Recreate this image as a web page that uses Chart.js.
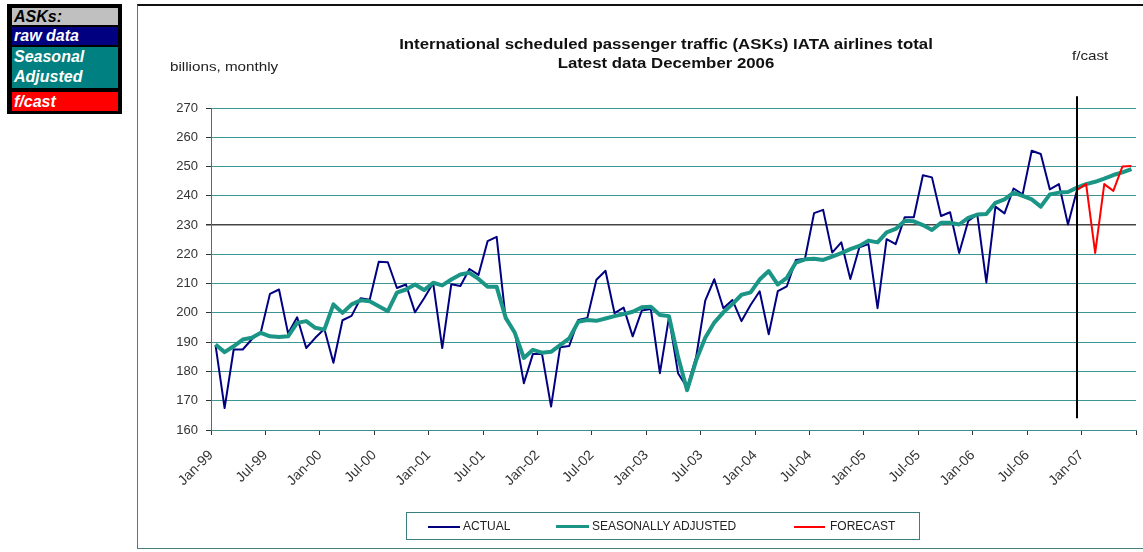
<!DOCTYPE html>
<html>
<head>
<meta charset="utf-8">
<script src="https://cdn.jsdelivr.net/npm/chart.js@4.4.0/dist/chart.umd.min.js"></script>
<style>
  body { margin: 0; background: #fff; font-family: "Liberation Sans", Arial, sans-serif; }
  #wrap { position: relative; width: 1143px; height: 552px; overflow: hidden; }
  #frame { position: absolute; left: 137px; top: 4px; width: 1010px; height: 545px;
           border: 1px solid #4a7f7f; border-top: 2px solid #111; box-sizing: border-box; }
  #chartBox { position: absolute; left: 0; top: 0; width: 1143px; height: 552px; }
  .txt { position: absolute; white-space: nowrap; color: #111; transform-origin: left top; }
  #title { width: 500px; top: 35px; text-align: center; font-weight: bold; font-size: 14px;
           line-height: 19px; transform: scaleX(1.2); transform-origin: 250px 0; left: 416px; }
  #unit { left: 170px; top: 59px; font-size: 13px; color: #222; transform: scaleX(1.17); }
  #fcast { left: 1072px; top: 48px; font-size: 13px; color: #222; transform: scaleX(1.17); }
  #key { position: absolute; left: 7px; top: 4px; width: 115px; height: 110px; background: #000; }
  #key div { position: absolute; left: 5px; width: 106px; color: #fff; font-weight: bold; font-style: italic;
             font-size: 16px; padding-left: 2px; box-sizing: border-box; }
  #legend { position: absolute; left: 406px; top: 512px; width: 514px; height: 28px;
            border: 1px solid #3a7f7f; box-sizing: border-box; font-size: 12px; color: #222; }
  #legend .sw { position: absolute; top: 13px; }
  #legend .lb { position: absolute; top: 6px; }
</style>
</head>
<body>
<div id="wrap">
  <div id="frame"></div>
  <div id="chartBox"><canvas id="c"></canvas></div>
  <div id="title" class="txt">International scheduled passenger traffic (ASKs) IATA airlines total<br>Latest data December 2006</div>
  <div id="unit" class="txt">billions, monthly</div>
  <div id="fcast" class="txt">f/cast</div>
  <div id="key">
    <div style="top:4px;height:17px;line-height:17px;background:#c0c0c0;color:#000">ASKs:</div>
    <div style="top:23px;height:18px;line-height:18px;background:#000080">raw data</div>
    <div style="top:43px;height:41px;line-height:20px;background:#008080">Seasonal<br>Adjusted</div>
    <div style="top:88px;height:19px;line-height:19px;background:#ff0000">f/cast</div>
  </div>
  <div id="legend">
    <div class="sw" style="left:21px;width:32px;height:2px;background:#000080"></div>
    <div class="lb" style="left:56px">ACTUAL</div>
    <div class="sw" style="left:149px;width:33px;height:3px;top:12px;background:#1b9585"></div>
    <div class="lb" style="left:185px">SEASONALLY ADJUSTED</div>
    <div class="sw" style="left:387px;width:31px;height:2px;background:#ff0000"></div>
    <div class="lb" style="left:423px">FORECAST</div>
  </div>
</div>
<script>
// monthly, starting Jan-99
const tickLabels = ["Jan-99", "Jul-99", "Jan-00", "Jul-00", "Jan-01", "Jul-01", "Jan-02", "Jul-02", "Jan-03",
  "Jul-03", "Jan-04", "Jul-04", "Jan-05", "Jul-05", "Jan-06", "Jul-06", "Jan-07", ""];

// Jan-99 .. Dec-06
const actual = [
  189, 167.5, 187.5, 187.5, 191, 193.5, 206.5, 208, 193, 198.5, 188, 191.5,
  194.5, 183, 197.5, 199, 205, 204.5, 217.5, 217.3, 208.5, 209.7, 200.2, 205,
  210.2, 188, 209.8, 209.2, 215, 213, 224.5, 226, 197.8, 193.5, 176, 186,
  186, 168, 188.3, 188.7, 197.6, 198.3, 211.3, 214.4, 199.9, 201.8, 192, 200.8,
  201.3, 179.4, 198.5, 179.4, 174.5, 185, 204.2, 211.5, 201.6, 204.4, 197.2, 202.7,
  207.4, 192.7, 207.4, 209.1, 218.1, 218.5, 234.1, 235.2, 220.6, 224.1, 211.6, 222.4,
  223.5, 201.6, 225.2, 223.5, 232.7, 232.7, 247, 246.3, 233.1, 234.4, 220.5, 231.4,
  233.6, 210.4, 236.3, 234, 242.5, 240.5, 255.4, 254.3, 242.2, 244, 230.2, 242
];

// Jan-99 .. Jun-07
const seasAdj = [
  189.2, 186.6, 188.6, 190.9, 191.5, 193.2, 192, 191.8, 192, 196.6, 197.2, 194.9,
  194.3, 202.9, 200, 202.9, 204.3, 204, 202.3, 200.6, 206.9, 208, 209.7, 207.8,
  210.3, 209.4, 211.4, 213.1, 213.7, 211.6, 208.9, 208.9, 198.3, 193.2, 184.6, 187.4,
  186.4, 186.7, 189, 191.3, 197, 197.6, 197.3, 198.1, 198.9, 199.6, 200.4, 201.9,
  202.1, 199.3, 198.9, 185, 173.6, 183.8, 191.5, 196.7, 200.2, 203, 206.2, 207,
  211.4, 214.3, 209.7, 212, 217.2, 218.3, 218.5, 218.1, 219.2, 220.4, 221.8, 222.9,
  224.7, 224.1, 227.5, 228.7, 231.5, 231.3, 230, 228.3, 230.8, 230.8, 230.2, 232.5,
  233.6, 233.8, 237.6, 238.8, 241.1, 240, 238.8, 236.3, 240.5, 241.1, 241.3, 242.8,
  244, 244.8, 245.9, 247.1, 248, 249.1
];

// Dec-06 .. Jun-07
const forecast = [242, 244, 220.5, 244, 241.7, 250, 250.2];

const fcStart = actual.length - 1;   // forecast joins at Dec-06
const markerTop = 274, markerBottom = 164;

// points sit between monthly tick marks
const pts = (arr, start) => arr.map((v, i) => ({ x: start + i + 0.5, y: v }));

const forecastMarker = {
  id: "forecastMarker",
  afterDatasetsDraw(chart) {
    const { ctx, scales: { x, y } } = chart;
    const px = Math.round(x.getPixelForValue(fcStart + 0.5));
    ctx.save();
    ctx.strokeStyle = "#000";
    ctx.lineWidth = 2;
    ctx.beginPath();
    ctx.moveTo(px, y.getPixelForValue(markerTop));
    ctx.lineTo(px, y.getPixelForValue(markerBottom));
    ctx.stroke();
    ctx.restore();
  }
};

new Chart(document.getElementById("c").getContext("2d"), {
  type: "line",
  data: {
    datasets: [
      { label: "ACTUAL", data: pts(actual, 0), borderColor: "#000080", borderWidth: 2, order: 2 },
      { label: "SEASONALLY ADJUSTED", data: pts(seasAdj, 0), borderColor: "#1b9585", borderWidth: 4, order: 1 },
      { label: "FORECAST", data: pts(forecast, fcStart), borderColor: "#ff0000", borderWidth: 2, order: 0 }
    ]
  },
  options: {
    responsive: true,
    maintainAspectRatio: false,
    animation: false,
    elements: { point: { radius: 0 }, line: { tension: 0, borderJoinStyle: "round", fill: false } },
    layout: { padding: { left: 0, top: 108, right: 7, bottom: 0 } },
    scales: {
      x: {
        type: "linear",
        min: 0,
        max: 102,
        afterFit: (s) => { s.height = 122; s.paddingLeft = 0; s.paddingRight = 0; },
        border: { color: "#3d8f8f", width: 1 },
        grid: { drawOnChartArea: false, drawTicks: true, tickLength: 5, tickColor: "#333" },
        ticks: {
          stepSize: 6,
          autoSkip: false,
          maxRotation: 45,
          minRotation: 45,
          padding: 12,
          color: "#333",
          font: { family: "'Liberation Sans', Arial", size: 14 },
          callback: (v) => tickLabels[v / 6]
        }
      },
      y: {
        min: 160,
        max: 270,
        afterFit: (s) => { s.width = 211; },
        border: { color: "#666", width: 1 },
        grid: {
          color: (c) => (c.tick && c.tick.value === 230 ? "#444" : "#3d9696"),
          lineWidth: (c) => (c.tick && c.tick.value === 230 ? 1.5 : 1),
          tickLength: 5,
          tickColor: "#333"
        },
        ticks: {
          stepSize: 10,
          padding: 8,
          color: "#333",
          font: { family: "'Liberation Sans', Arial", size: 13 }
        }
      }
    },
    plugins: { legend: { display: false }, tooltip: { enabled: false } }
  },
  plugins: [forecastMarker]
});
</script>
</body>
</html>
